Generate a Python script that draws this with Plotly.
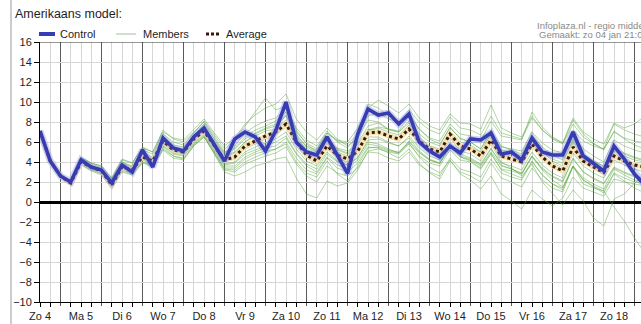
import plotly.graph_objects as go

# 6-hourly forecast steps, one label per day
day_labels = ["Zo 4", "Ma 5", "Di 6", "Wo 7", "Do 8", "Vr 9", "Za 10", "Zo 11",
              "Ma 12", "Di 13", "Wo 14", "Do 15", "Vr 16", "Za 17", "Zo 18"]
steps = list(range(60))
label_steps = list(range(0, 60, 4))
day_lines = list(range(2, 60, 4))
minor_steps = [s for s in steps if s % 4 in (1, 3)]

control = [7.1, 4.1, 2.6, 2.0, 4.2, 3.5, 3.2, 1.9, 3.7, 3.0,
           5.2, 3.5, 6.4, 5.4, 5.1, 6.5, 7.4, 5.8, 4.1, 6.3,
           7.0, 6.5, 5.1, 7.15, 10.0, 6.0, 5.0, 4.7, 6.5, 4.7,
           2.85, 6.8, 9.3, 8.7, 8.9, 7.8, 8.8, 6.0, 5.1, 4.5,
           5.6, 4.9, 6.3, 6.2, 6.9, 4.8, 5.0, 4.2, 6.4, 5.0,
           4.7, 4.7, 7.0, 4.6, 3.8, 3.1, 5.6, 4.3, 2.8, 1.7]

average = [7.1, 4.1, 2.6, 1.9, 4.0, 3.5, 3.1, 1.7, 3.5, 3.2,
           4.5, 4.1, 6.1, 5.2, 5.0, 6.3, 7.1, 5.7, 4.2, 4.5,
           5.6, 6.1, 6.6, 7.0, 7.8, 6.0, 4.7, 4.1, 5.6, 4.7,
           4.3, 5.1, 6.9, 7.0, 6.6, 6.3, 7.3, 6.1, 5.3, 5.0,
           6.8, 5.6, 5.3, 4.6, 6.2, 4.6, 4.3, 4.0, 5.8, 4.5,
           3.6, 3.1, 5.5, 4.1, 3.5, 2.95, 4.6, 4.1, 3.7, 3.5]

member_01 = [7.1, 4.1, 2.6, 2.1, 4.3, 3.7, 3.3, 1.9, 3.8, 3.4,
             4.8, 4.4, 6.4, 5.5, 5.3, 6.7, 7.6, 6.0, 4.6, 5.0,
             6.0, 6.8, 7.3, 7.6, 8.6, 6.5, 5.2, 4.8, 6.2, 5.3,
             4.9, 5.9, 7.6, 7.9, 7.2, 7.0, 8.1, 6.8, 6.0, 5.6,
             7.5, 6.3, 6.0, 5.3, 7.0, 5.2, 5.0, 4.6, 6.6, 5.1,
             4.3, 3.9, 6.3, 4.8, 4.1, 3.6, 5.4, 4.9, 4.5, 4.2]
member_02 = [7.1, 4.1, 2.6, 1.8, 3.8, 3.3, 2.9, 1.4, 3.2, 3.0,
             4.2, 3.8, 5.7, 4.9, 4.7, 5.9, 6.8, 5.2, 3.6, 3.6,
             4.5, 5.0, 5.4, 5.6, 6.4, 4.8, 3.6, 3.0, 4.5, 3.7,
             3.4, 4.2, 5.8, 5.6, 5.2, 5.0, 6.0, 4.9, 4.2, 3.9,
             5.6, 4.5, 4.2, 3.6, 5.0, 3.6, 3.3, 2.9, 4.6, 3.4,
             2.6, 2.1, 4.4, 3.0, 2.4, 1.9, 3.5, 3.0, 2.6, 2.4]
member_03 = [7.1, 4.1, 2.6, 2.2, 4.5, 3.9, 3.6, 2.4, 4.2, 3.9,
             5.5, 5.0, 7.0, 6.4, 6.2, 7.2, 8.3, 6.9, 5.6, 6.4,
             7.8, 8.7, 9.4, 9.8, 10.8, 8.3, 7.0, 6.2, 7.4, 6.3,
             5.6, 6.4, 8.2, 8.0, 7.3, 7.0, 7.9, 6.5, 5.6, 5.2,
             6.9, 5.8, 5.4, 4.6, 6.2, 4.8, 4.5, 4.1, 6.0, 4.7,
             3.9, 3.4, 5.9, 4.5, 3.9, 3.3, 5.1, 4.6, 4.2, 4.0]
member_04 = [7.1, 4.1, 2.6, 1.9, 3.9, 3.4, 3.0, 1.6, 3.3, 2.9,
             4.0, 3.6, 5.5, 4.6, 4.4, 5.7, 6.6, 4.8, 3.0, 2.6,
             3.0, 3.6, 3.9, 4.3, 4.5, 2.4, 0.8, 0.4, 2.1, 1.6,
             1.9, 3.2, 5.1, 5.3, 5.0, 4.8, 5.8, 4.6, 3.9, 3.6,
             5.2, 4.2, 4.0, 3.3, 4.8, 3.3, 3.1, 2.8, 4.5, 3.3,
             2.5, 2.0, 4.3, 3.0, 2.3, 1.8, 3.4, 2.9, 2.5, 2.2]
member_05 = [7.1, 4.1, 2.6, 2.0, 4.1, 3.6, 3.2, 1.8, 3.6, 3.3,
             4.7, 4.3, 6.3, 5.3, 5.1, 6.5, 7.3, 5.9, 4.4, 4.9,
             6.0, 6.6, 7.1, 7.3, 8.2, 6.6, 5.6, 5.2, 6.9, 6.2,
             6.0, 7.4, 9.4, 10.2, 9.6, 8.9, 9.8, 8.4, 7.6, 7.2,
             8.8, 7.9, 7.8, 7.3, 9.7, 7.4, 6.9, 6.5, 8.6, 7.2,
             6.3, 5.8, 7.8, 6.5, 5.8, 5.3, 7.0, 6.4, 6.1, 5.9]
member_06 = [7.1, 4.1, 2.6, 1.9, 4.0, 3.5, 3.0, 1.6, 3.4, 3.1,
             4.4, 4.0, 6.0, 5.1, 4.9, 6.2, 7.0, 5.5, 4.0, 4.3,
             5.3, 5.8, 6.3, 6.7, 7.5, 5.6, 4.4, 3.8, 5.3, 4.4,
             4.0, 4.8, 6.5, 6.5, 6.0, 5.6, 6.6, 5.4, 4.6, 4.2,
             5.9, 4.8, 4.4, 3.8, 5.4, 3.7, 3.3, 2.8, 4.6, 3.2,
             2.2, 1.5, 3.6, 1.8, 1.4, 1.1, -0.5, -1.9, -3.6, -5.1]
member_07 = [7.1, 4.1, 2.6, 2.0, 4.2, 3.7, 3.2, 1.7, 3.7, 3.2,
             4.6, 4.2, 6.0, 5.2, 5.0, 6.3, 7.2, 5.6, 4.2, 4.4,
             5.4, 5.9, 6.4, 6.8, 7.6, 5.8, 4.6, 4.0, 5.4, 4.5,
             4.1, 5.0, 6.8, 6.9, 6.4, 6.1, 7.0, 5.8, 5.0, 4.6,
             6.4, 5.1, 4.8, 4.1, 5.8, 4.0, 3.4, 2.6, 3.8, 2.0,
             0.8, -0.3, 1.2, 0.1, -1.6, -2.4, 0.3, 0.8, 1.9, 2.6]
member_08 = [7.1, 4.1, 2.6, 1.9, 3.9, 3.3, 2.9, 1.5, 3.3, 3.0,
             4.3, 3.9, 5.8, 5.0, 4.8, 6.0, 6.9, 5.4, 3.8, 4.0,
             5.0, 5.5, 5.9, 6.3, 7.0, 5.3, 4.1, 3.6, 5.0, 4.1,
             3.7, 4.5, 6.0, 5.8, 5.3, 4.9, 5.9, 4.5, 3.5, 2.9,
             4.2, 2.8, 2.2, 1.3, 2.6, 0.8, 0.1, -0.7, 1.2, 0.3,
             -0.4, 0.4, 2.5, 1.4, 1.0, 0.6, 2.3, 2.0, 1.8, 1.6]
member_09 = [7.1, 4.1, 2.6, 2.1, 4.2, 3.6, 3.1, 1.8, 3.5, 3.2,
             4.6, 4.1, 6.2, 5.3, 5.1, 6.4, 7.4, 6.1, 4.8, 5.3,
             6.3, 6.9, 7.4, 7.8, 8.7, 6.8, 5.5, 5.0, 6.4, 5.4,
             5.1, 5.7, 7.3, 7.1, 6.7, 6.4, 7.4, 6.2, 5.4, 5.1,
             6.8, 5.8, 5.5, 5.0, 6.8, 5.5, 5.3, 5.1, 7.0, 5.9,
             5.2, 4.9, 7.2, 6.1, 5.6, 5.3, 7.9, 7.4, 7.8, 8.6]
member_10 = [7.1, 4.1, 2.6, 1.8, 3.9, 3.4, 3.0, 1.6, 3.4, 3.1,
             4.3, 3.9, 5.6, 4.8, 4.6, 5.8, 6.7, 5.0, 3.3, 3.2,
             4.0, 4.5, 4.9, 5.3, 5.8, 4.0, 2.9, 2.5, 4.1, 2.8,
             2.1, 3.6, 5.4, 5.5, 5.1, 4.9, 6.1, 5.0, 4.2, 3.8,
             5.5, 4.6, 4.3, 3.7, 5.3, 3.9, 3.6, 3.2, 5.0, 3.7,
             2.9, 2.4, 4.9, 3.6, 2.9, 2.4, 4.2, 3.7, 3.3, 3.0]
member_11 = [7.1, 4.1, 2.6, 2.1, 4.4, 3.8, 3.4, 2.2, 4.0, 3.6,
             5.2, 4.8, 6.8, 6.0, 5.7, 6.9, 8.1, 6.7, 5.3, 6.2,
             7.6, 8.9, 10.4, 9.2, 9.6, 7.2, 5.8, 5.0, 6.4, 5.2,
             4.8, 5.4, 7.1, 7.4, 7.0, 6.7, 7.7, 6.4, 5.6, 5.3,
             7.1, 6.0, 5.7, 5.0, 6.7, 5.0, 4.7, 4.4, 6.3, 5.0,
             4.1, 3.6, 6.1, 4.7, 4.1, 3.5, 5.3, 4.8, 4.4, 4.1]
member_12 = [7.1, 4.1, 2.6, 2.0, 4.0, 3.5, 3.1, 1.7, 3.6, 3.3,
             4.5, 4.1, 6.1, 5.2, 5.0, 6.3, 7.2, 5.7, 4.3, 4.6,
             5.5, 6.0, 6.4, 6.9, 7.6, 6.0, 4.8, 4.2, 5.6, 4.8,
             4.5, 5.4, 7.2, 7.5, 7.3, 7.1, 8.6, 7.3, 6.4, 6.1,
             7.8, 6.8, 6.6, 6.1, 8.1, 6.6, 6.4, 6.2, 9.0, 7.5,
             6.5, 5.9, 8.2, 6.8, 5.9, 5.2, 7.1, 6.3, 5.7, 5.3]
member_13 = [7.1, 4.1, 2.6, 1.9, 4.1, 3.5, 3.0, 1.6, 3.5, 3.1,
             4.4, 4.0, 5.9, 5.1, 4.9, 6.2, 7.0, 5.3, 3.7, 3.9,
             4.8, 5.2, 5.6, 6.0, 6.6, 4.9, 3.8, 3.3, 4.8, 4.0,
             3.7, 4.4, 6.2, 6.3, 5.9, 5.6, 6.4, 5.1, 4.3, 3.9,
             5.7, 4.5, 4.1, 3.4, 4.9, 3.2, 2.8, 2.4, 4.1, 2.7,
             1.8, 1.2, 3.6, 2.2, 1.5, 0.9, 2.8, 2.1, 1.4, 0.9]
member_14 = [7.1, 4.1, 2.6, 2.0, 4.3, 3.7, 3.3, 2.0, 3.9, 3.5,
             5.0, 4.5, 6.6, 5.7, 5.5, 6.6, 7.8, 6.3, 4.9, 5.6,
             6.9, 7.6, 8.1, 8.4, 9.3, 7.4, 6.2, 5.6, 7.1, 6.0,
             5.4, 6.7, 9.8, 9.4, 8.6, 8.0, 8.9, 7.3, 6.3, 5.8,
             7.4, 6.4, 6.0, 5.3, 7.2, 5.6, 5.2, 4.8, 6.7, 5.5,
             4.7, 4.2, 6.6, 5.3, 4.6, 4.0, 6.2, 5.6, 5.2, 4.9]
member_15 = [7.1, 4.1, 2.6, 1.9, 3.8, 3.2, 2.8, 1.4, 3.1, 2.8,
             4.0, 3.7, 5.3, 4.6, 4.3, 5.6, 6.5, 4.9, 3.4, 3.4,
             4.3, 4.8, 5.1, 5.3, 6.0, 4.4, 3.2, 2.8, 4.4, 3.4,
             3.0, 3.9, 5.5, 5.4, 4.9, 4.4, 5.3, 3.9, 2.9, 2.3,
             4.1, 3.0, 2.6, 2.0, 3.9, 2.4, 2.0, 1.5, 3.4, 2.2,
             1.4, 1.0, 3.6, 2.4, 1.8, 1.3, 3.3, 2.7, 2.2, 1.9]
member_16 = [7.1, 4.1, 2.6, 2.0, 4.0, 3.4, 3.1, 1.7, 3.5, 3.2,
             4.5, 4.1, 6.1, 5.2, 5.0, 6.3, 7.1, 5.6, 4.1, 4.4,
             5.4, 6.1, 6.7, 7.2, 8.0, 6.1, 4.9, 4.4, 5.9, 5.0,
             4.6, 5.2, 7.1, 7.2, 6.8, 6.5, 7.4, 6.2, 5.4, 5.1,
             6.9, 5.7, 5.4, 4.7, 6.3, 4.7, 4.4, 4.1, 5.9, 4.5,
             3.6, 3.1, 5.6, 4.1, 3.5, 3.0, 4.7, 4.2, 3.8, 3.6]
member_17 = [7.1, 4.1, 2.6, 2.2, 4.4, 3.9, 3.6, 2.3, 4.3, 3.9,
             5.4, 5.0, 7.2, 6.3, 6.0, 7.0, 8.0, 6.5, 5.0, 5.4,
             6.5, 7.2, 7.6, 8.1, 9.0, 7.0, 5.9, 5.3, 6.9, 6.1,
             5.8, 6.8, 8.6, 8.9, 8.3, 8.0, 9.2, 8.0, 7.2, 6.8,
             8.5, 7.4, 7.2, 6.7, 8.6, 6.9, 6.6, 6.3, 8.4, 7.2,
             6.4, 5.9, 8.4, 7.0, 6.3, 5.8, 7.8, 7.2, 6.8, 6.5]
member_18 = [7.1, 4.1, 2.6, 1.8, 3.7, 3.1, 2.7, 1.3, 3.0, 2.7,
             3.9, 3.5, 5.2, 4.4, 4.2, 5.6, 6.5, 4.9, 3.2, 3.0,
             3.8, 4.2, 4.6, 4.9, 5.5, 3.8, 2.6, 2.0, 3.6, 2.9,
             2.6, 3.4, 5.0, 4.9, 4.4, 4.1, 5.0, 3.7, 3.0, 2.6,
             4.4, 3.3, 3.0, 2.5, 4.3, 2.9, 2.5, 2.2, 4.0, 2.7,
             1.8, 1.4, 3.5, 2.2, 1.6, 1.1, 2.9, 2.4, 2.0, 1.8]

members = [member_01, member_02, member_03, member_04, member_05, member_06,
           member_07, member_08, member_09, member_10, member_11, member_12,
           member_13, member_14, member_15, member_16, member_17, member_18]

# colours and fonts
FONT = "Liberation Sans, Arial, sans-serif"
CONTROL_BLUE = "rgb(56,60,178)"
MEMBER_GREEN = "rgba(80,165,52,0.45)"
AVG_DARK = "rgb(58,22,8)"
AVG_UNDER = "rgb(246,228,180)"
GRID_LIGHT = "#d6d6d6"
DAY_LINE = "#5a5a5a"

# page geometry (pixels)
W, H = 641, 324
ML, MR, MT, MB = 40, 0, 42, 22
PW, PH = W - ML - MR, H - MT - MB
STEP_PX = 10.25


def px_x(px):
    return (px - ML) / PW


def px_y(py):
    return (H - MB - py) / PH


fig = go.Figure()

for m in members:
    fig.add_trace(go.Scatter(x=steps, y=m, mode="lines",
                             line=dict(color=MEMBER_GREEN, width=1),
                             hoverinfo="skip", showlegend=False))

fig.add_trace(go.Scatter(x=steps, y=average, mode="lines",
                         line=dict(color=AVG_UNDER, width=5),
                         hoverinfo="skip", showlegend=False))
fig.add_trace(go.Scatter(x=steps, y=average, mode="lines", name="Average",
                         line=dict(color=AVG_DARK, width=3, dash="3px,3px"),
                         showlegend=False))

fig.add_trace(go.Scatter(x=steps, y=control, mode="lines",
                         line=dict(color="rgba(110,120,235,0.30)", width=7),
                         hoverinfo="skip", showlegend=False))
fig.add_trace(go.Scatter(x=steps, y=control, mode="lines", name="Control",
                         line=dict(color=CONTROL_BLUE, width=3.6),
                         showlegend=False))

shapes = []
# day separators (the light grid skips these positions), with a tick below the axis
for d in day_lines:
    shapes.append(dict(type="line", xref="x", yref="paper", x0=d, x1=d,
                       y0=px_y(306), y1=1,
                       line=dict(color=DAY_LINE, width=1), layer="below"))
# top border of the plot
shapes.append(dict(type="line", xref="paper", yref="y", x0=0, x1=1, y0=16, y1=16,
                   line=dict(color="#333333", width=1), layer="above"))
# panel edge on the left
shapes.append(dict(type="line", xref="paper", yref="paper", x0=px_x(11), x1=px_x(11),
                   y0=px_y(0), y1=px_y(H), line=dict(color="#9a9a9a", width=1)))

# legend row
leg_y = px_y(34)
shapes.append(dict(type="line", xref="paper", yref="paper", x0=px_x(39), x1=px_x(55),
                   y0=leg_y, y1=leg_y, line=dict(color=CONTROL_BLUE, width=4)))
shapes.append(dict(type="line", xref="paper", yref="paper", x0=px_x(116), x1=px_x(136),
                   y0=leg_y, y1=leg_y, line=dict(color="rgb(196,212,190)", width=1.5)))
shapes.append(dict(type="line", xref="paper", yref="paper", x0=px_x(206), x1=px_x(219),
                   y0=leg_y, y1=leg_y, line=dict(color=AVG_DARK, width=3, dash="3px,2px")))

annotations = [
    dict(text="Amerikaans model:", x=px_x(13), y=px_y(14), xref="paper", yref="paper",
         xanchor="left", yanchor="middle", showarrow=False,
         font=dict(family=FONT, size=12.5, color="#1e1e1e")),
    dict(text="Control", x=px_x(58), y=leg_y, xref="paper", yref="paper",
         xanchor="left", yanchor="middle", showarrow=False,
         font=dict(family=FONT, size=11, color="#1e1e1e")),
    dict(text="Members", x=px_x(141), y=leg_y, xref="paper", yref="paper",
         xanchor="left", yanchor="middle", showarrow=False,
         font=dict(family=FONT, size=11, color="#1e1e1e")),
    dict(text="Average", x=px_x(224), y=leg_y, xref="paper", yref="paper",
         xanchor="left", yanchor="middle", showarrow=False,
         font=dict(family=FONT, size=11, color="#1e1e1e")),
    dict(text="Infoplaza.nl - regio midden", x=px_x(535), y=px_y(25), xref="paper",
         yref="paper", xanchor="left", yanchor="middle", showarrow=False,
         font=dict(family=FONT, size=9.5, color="#8a8a8a")),
    dict(text="Gemaakt: zo 04 jan 21:00", x=px_x(537), y=px_y(34), xref="paper",
         yref="paper", xanchor="left", yanchor="middle", showarrow=False,
         font=dict(family=FONT, size=9.5, color="#8a8a8a")),
]

fig.update_layout(
    width=W, height=H,
    margin=dict(l=ML, r=MR, t=MT, b=MB, pad=0),
    paper_bgcolor="white", plot_bgcolor="rgba(0,0,0,0)",
    font=dict(family=FONT, size=11, color="#1e1e1e"),
    showlegend=False,
    shapes=shapes,
    annotations=annotations,
    xaxis=dict(
        range=[0, PW / STEP_PX],
        tickmode="array", tickvals=label_steps, ticktext=day_labels,
        ticks="outside", ticklen=4, tickcolor="#000000",
        showgrid=True, gridcolor=GRID_LIGHT, gridwidth=1,
        minor=dict(tickmode="array", tickvals=minor_steps, ticks="outside", ticklen=4,
                   tickcolor="#000000", showgrid=True, gridcolor=GRID_LIGHT, gridwidth=1),
        showline=True, linecolor="#000000", linewidth=1,
        zeroline=False, fixedrange=True,
        tickfont=dict(family=FONT, size=11, color="#1e1e1e"),
    ),
    yaxis=dict(
        range=[-10, 16], tick0=0, dtick=2,
        ticks="outside", ticklen=5, tickcolor="#000000",
        showgrid=True, gridcolor=GRID_LIGHT, gridwidth=1,
        zeroline=True, zerolinecolor="#000000", zerolinewidth=3,
        showline=True, linecolor="#000000", linewidth=1,
        fixedrange=True,
        tickfont=dict(family=FONT, size=11, color="#1e1e1e"),
    ),
)

fig.write_html("out.html", config={"displayModeBar": False})
